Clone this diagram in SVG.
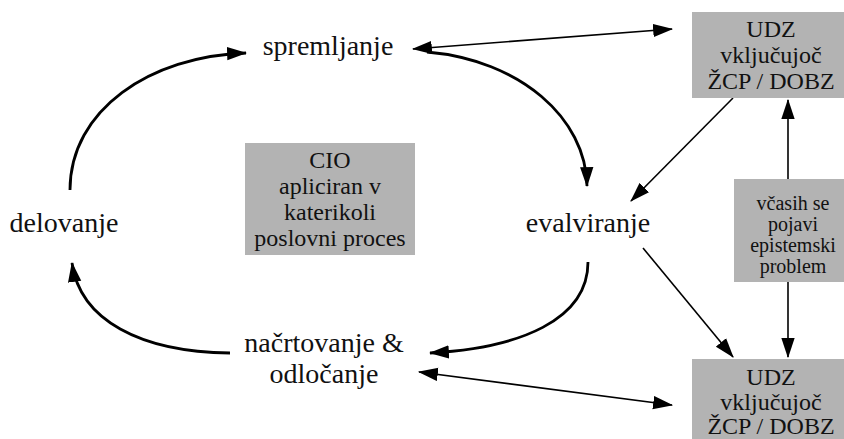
<svg xmlns="http://www.w3.org/2000/svg" width="844" height="439" viewBox="0 0 844 439">
  <style>
    text { font-family: "Liberation Serif", "Times New Roman", serif; fill: #111; text-anchor: middle; }
    .step { font-size: 28px; }
    .box { fill: #b3b3b3; stroke: none; }
    .boxtxt { font-size: 24px; }
    .small { font-size: 20px; }
    .cycle { fill: none; stroke: #000; stroke-width: 2.8; }
    .link { fill: none; stroke: #000; stroke-width: 1.6; }
  </style>
  <defs>
    <marker id="head" markerUnits="userSpaceOnUse" markerWidth="20" markerHeight="14" viewBox="0 0 18 12" refX="17" refY="6" orient="auto-start-reverse">
      <path d="M0,0 L18,6 L0,12 Z" fill="#000"/>
    </marker>
  </defs>

  <rect width="844" height="439" fill="#fff"/>

  <!-- connectors -->
  <g id="connectors">
    <!-- main cycle -->
    <path class="cycle" d="M70,190 C70,110 150,56 246,53" marker-end="url(#head)"/>
    <path class="cycle" d="M427,52 C520,60 586,118 587,186" marker-end="url(#head)"/>
    <path class="cycle" d="M588,262 C588,320 520,348 430,353" marker-end="url(#head)"/>
    <path class="cycle" d="M230,353 C140,352 80,320 72,263" marker-end="url(#head)"/>
    <!-- links to the UDZ boxes -->
    <path class="link" d="M413,49 L672,29" marker-start="url(#head)" marker-end="url(#head)"/>
    <path class="link" d="M419,372 L672,405" marker-start="url(#head)" marker-end="url(#head)"/>
    <path class="link" d="M733,98 L631,201" marker-end="url(#head)"/>
    <path class="link" d="M643,248 L733,357" marker-end="url(#head)"/>
    <path class="link" d="M788,282 L788,357" marker-end="url(#head)"/>
    <path class="link" d="M788,179 L788,100" marker-end="url(#head)"/>
  </g>

  <g id="spremljanje">
    <text class="step" x="328" y="55">spremljanje</text>
  </g>
  <g id="evalviranje">
    <text class="step" x="588" y="232">evalviranje</text>
  </g>
  <g id="delovanje">
    <text class="step" x="64" y="232">delovanje</text>
  </g>
  <g id="nacrtovanje">
    <text class="step" x="324" y="352">načrtovanje &amp;</text>
    <text class="step" x="324" y="383">odločanje</text>
  </g>

  <g id="cio">
    <rect class="box" x="245" y="143" width="170" height="112"/>
    <text class="boxtxt" x="330" y="168">CIO</text>
    <text class="boxtxt" x="330" y="194">apliciran v</text>
    <text class="boxtxt" x="330" y="220">katerikoli</text>
    <text class="boxtxt" x="330" y="246">poslovni proces</text>
  </g>

  <g id="udz-top">
    <rect class="box" x="692" y="12" width="160" height="86"/>
    <text class="boxtxt" x="771" y="37">UDZ</text>
    <text class="boxtxt" x="771" y="63">vključujoč</text>
    <text class="boxtxt" x="771" y="89">ŽCP / DOBZ</text>
  </g>

  <g id="epistemski">
    <rect class="box" x="734" y="179" width="120" height="103"/>
    <text class="small" x="793" y="210">včasih se</text>
    <text class="small" x="793" y="231">pojavi</text>
    <text class="small" x="793" y="252">epistemski</text>
    <text class="small" x="793" y="273">problem</text>
  </g>

  <g id="udz-bottom">
    <rect class="box" x="692" y="359" width="160" height="90"/>
    <text class="boxtxt" x="771" y="385">UDZ</text>
    <text class="boxtxt" x="771" y="410">vključujoč</text>
    <text class="boxtxt" x="771" y="434">ŽCP / DOBZ</text>
  </g>
</svg>
